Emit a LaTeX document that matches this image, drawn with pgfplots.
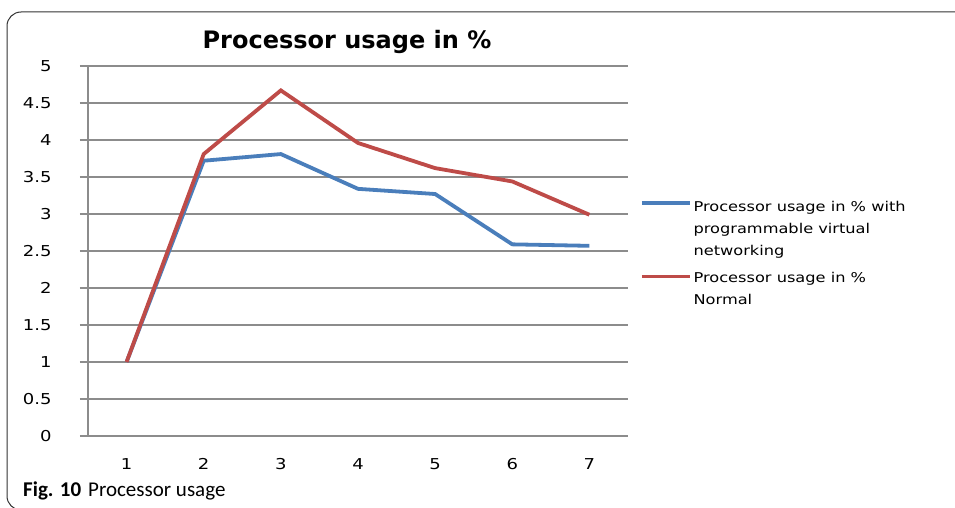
\documentclass[border=0pt]{standalone}
\usepackage{pgfplots}
\pgfplotsset{compat=1.18}
\usepackage{fontspec}
\setmainfont{DejaVu Sans}
\newfontfamily\capfont{Carlito}
\newfontfamily\widefont[FakeStretch=1.2]{DejaVu Sans}
\definecolor{sblue}{HTML}{4A7EBB}
\definecolor{sred}{HTML}{BE4B48}
\definecolor{gridgray}{HTML}{8C8C8C}
\pgfplotsset{
  imgA/.style={legend image code/.code={\draw[sblue, line width=3.5pt] (0pt,26pt) -- (48pt,26pt);}},
  imgB/.style={legend image code/.code={\draw[sred, line width=3.5pt] (0pt,12pt) -- (48pt,12pt);}},
}
\begin{document}
\begin{tikzpicture}[x=1pt,y=1pt]
\path[use as bounding box, clip] (0,0) rectangle (955,507);
\draw[line width=1pt, black!80, rounded corners=14pt] (7,-3) rectangle (990,495);
\node[anchor=center, font=\fontsize{24}{28}\selectfont\bfseries] at (347,465) {Processor usage in \%};
\node[anchor=base west, font=\capfont\fontsize{21}{24}\selectfont, inner sep=0pt] at (23,11) {\textbf{Fig. 10}\hspace{7pt}Processor usage};
\begin{axis}[at={(88pt,71pt)}, anchor=south west, scale only axis,
  width=540pt, height=370pt,
  xmin=0.5, xmax=7.5, ymin=0, ymax=5,
  axis x line*=bottom, axis y line*=left,
  axis line style={gridgray, line width=1.4pt},
  ytick={0,0.5,...,5},
  yticklabel style={/pgf/number format/fixed, /pgf/number format/assume math mode=true, xshift=-25pt},
  xticklabel style={/pgf/number format/assume math mode=true, yshift=-11pt},
  tick label style={font=\widefont\fontsize{15}{17}\selectfont},
  ymajorgrids, grid style={gridgray, line width=1.3pt},
  tick align=outside, major tick length=8pt,
  tick style={gridgray, line width=1.2pt},
  xtick={1,...,7},
  x tick style={draw=none},
  extra x ticks={0.5,1.5,...,7.5},
  extra x tick labels={},
  extra x tick style={tick style={draw=gridgray, line width=1.2pt}, major tick length=6pt},
  legend style={at={(1.022,0.641)}, anchor=north west, draw=none, fill=none,
    inner sep=0pt, row sep=11pt,
    font=\widefont\fontsize{13.5}{22}\selectfont,
    nodes={align=left, inner sep=2pt}},
  legend cell align=left,
]
\addplot[sblue, line width=3.8pt, imgA] coordinates {(1,1.0) (2,3.72) (3,3.81) (4,3.34) (5,3.27) (6,2.59) (7,2.57)};
\addlegendentry{Processor usage in \% with\\programmable virtual\\networking}
\addplot[sred, line width=3.8pt, imgB] coordinates {(1,1.0) (2,3.81) (3,4.67) (4,3.96) (5,3.62) (6,3.44) (7,2.99)};
\addlegendentry{Processor usage in \%\\Normal}
\end{axis}
\end{tikzpicture}
\end{document}
